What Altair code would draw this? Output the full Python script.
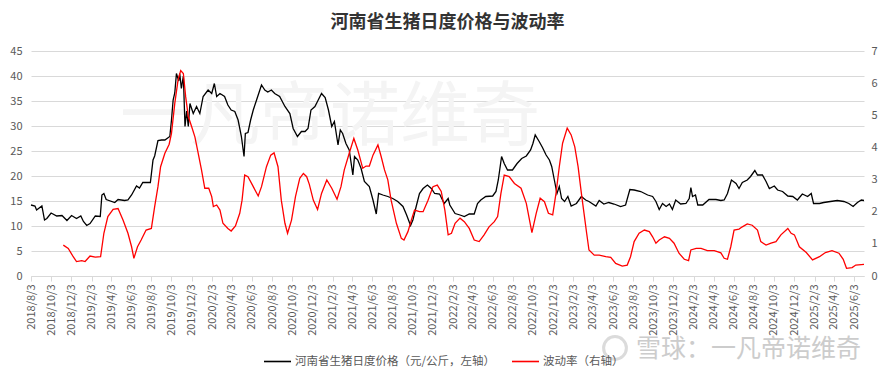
import altair as alt
import pandas as pd

TITLE = "河南省生猪日度价格与波动率"
PRICE = "河南省生猪日度价格（元/公斤，左轴）"
VOL = "波动率（右轴）"
FONT = "Noto Sans CJK SC"

price_dates = [
    "2018-08-03", "2018-08-15", "2018-08-20", "2018-09-05", "2018-09-13", "2018-09-20", "2018-10-03", "2018-10-20",
    "2018-11-05", "2018-11-20", "2018-12-04", "2018-12-19", "2019-01-01", "2019-01-09", "2019-01-19", "2019-01-29",
    "2019-02-14", "2019-03-01", "2019-03-06", "2019-03-12", "2019-03-19", "2019-04-14", "2019-04-24", "2019-05-14",
    "2019-05-24", "2019-06-04", "2019-06-19", "2019-06-28", "2019-07-08", "2019-07-31", "2019-08-08", "2019-08-13",
    "2019-08-23", "2019-09-03", "2019-09-13", "2019-09-28", "2019-10-03", "2019-10-08", "2019-10-13", "2019-10-18",
    "2019-10-25", "2019-10-28", "2019-11-02", "2019-11-08", "2019-11-13", "2019-11-18", "2019-11-23", "2019-11-28",
    "2019-12-08", "2019-12-18", "2019-12-28", "2020-01-07", "2020-01-22", "2020-02-02", "2020-02-10", "2020-02-17",
    "2020-02-27", "2020-03-12", "2020-03-22", "2020-04-01", "2020-04-12", "2020-04-22", "2020-05-02", "2020-05-10",
    "2020-05-14", "2020-05-22", "2020-05-30", "2020-06-07", "2020-06-17", "2020-07-02", "2020-07-12", "2020-07-21",
    "2020-08-01", "2020-08-11", "2020-08-26", "2020-09-11", "2020-09-26", "2020-10-06", "2020-10-19", "2020-10-31",
    "2020-11-11", "2020-11-20", "2020-11-29", "2020-12-11", "2020-12-21", "2020-12-31", "2021-01-11", "2021-01-21",
    "2021-01-31", "2021-02-08", "2021-02-19", "2021-02-26", "2021-03-05", "2021-03-15", "2021-03-25", "2021-04-05",
    "2021-04-10", "2021-04-20", "2021-04-30", "2021-05-10", "2021-05-25", "2021-06-05", "2021-06-15", "2021-06-22",
    "2021-07-05", "2021-07-20", "2021-08-04", "2021-08-19", "2021-09-04", "2021-09-15", "2021-09-27", "2021-10-04",
    "2021-10-14", "2021-10-24", "2021-11-04", "2021-11-17", "2021-11-29", "2021-12-09", "2021-12-24", "2022-01-07",
    "2022-01-19", "2022-01-24", "2022-02-09", "2022-02-24", "2022-03-09", "2022-03-24", "2022-04-08", "2022-04-18",
    "2022-04-28", "2022-05-13", "2022-06-03", "2022-06-13", "2022-06-20", "2022-06-30", "2022-07-08", "2022-07-18",
    "2022-08-02", "2022-08-16", "2022-08-30", "2022-09-13", "2022-09-26", "2022-10-03", "2022-10-10", "2022-10-22",
    "2022-11-01", "2022-11-12", "2022-11-22", "2022-11-29", "2022-12-07", "2022-12-15", "2022-12-22", "2022-12-29",
    "2023-01-07", "2023-01-17", "2023-01-27", "2023-02-12", "2023-02-27", "2023-03-12", "2023-03-22", "2023-04-12",
    "2023-04-22", "2023-05-06", "2023-05-21", "2023-06-06", "2023-06-26", "2023-07-11", "2023-07-24", "2023-08-06",
    "2023-08-26", "2023-09-16", "2023-10-01", "2023-10-11", "2023-10-21", "2023-10-31", "2023-11-11", "2023-11-21",
    "2023-11-30", "2023-12-10", "2023-12-25", "2024-01-10", "2024-01-20", "2024-01-25", "2024-01-30", "2024-02-08",
    "2024-02-15", "2024-03-01", "2024-03-20", "2024-04-10", "2024-04-25", "2024-05-05", "2024-05-15", "2024-05-27",
    "2024-06-10", "2024-06-19", "2024-06-29", "2024-07-14", "2024-07-24", "2024-08-06", "2024-08-14", "2024-08-29",
    "2024-09-09", "2024-09-19", "2024-10-04", "2024-10-14", "2024-10-29", "2024-11-14", "2024-11-29", "2024-12-13",
    "2024-12-28", "2025-01-13", "2025-01-24", "2025-01-31", "2025-02-18", "2025-03-03", "2025-03-23", "2025-04-13",
    "2025-05-03", "2025-05-18", "2025-05-31", "2025-06-13", "2025-06-25", "2025-07-03",
]
price_values = [
    14.2, 14.0, 13.2, 14.0, 11.2, 11.5, 12.6, 12.0,
    12.1, 11.1, 12.1, 11.5, 12.0, 10.9, 10.1, 10.5,
    12.0, 11.9, 16.2, 16.5, 15.3, 14.7, 15.3, 15.1,
    15.2, 16.2, 18.0, 17.6, 18.7, 18.7, 23.2, 24.0,
    27.1, 27.2, 27.2, 27.9, 31.2, 35.2, 36.6, 40.5,
    39.0, 40.5, 37.5, 40.0, 29.9, 33.0, 29.9, 34.5,
    32.5, 33.9, 32.5, 35.9, 37.2, 36.5, 38.5, 35.9,
    36.5, 35.9, 34.2, 33.2, 32.9, 31.2, 27.9, 23.9,
    28.5, 28.7, 31.2, 33.2, 35.2, 38.2, 37.2, 36.8,
    37.2, 36.5, 35.9, 33.9, 32.5, 29.5, 27.9, 28.9,
    28.9, 29.5, 33.2, 33.9, 35.2, 36.5, 35.7, 33.2,
    29.9, 30.9, 26.2, 29.2, 28.5, 26.5, 25.2, 20.2,
    23.9, 23.2, 21.5, 18.9, 17.9, 15.2, 12.4, 16.5,
    16.2, 15.9, 15.5, 14.9, 13.9, 12.2, 10.1, 11.2,
    13.9, 16.5, 17.5, 18.2, 17.5, 16.5, 16.4, 14.5,
    15.5, 14.2, 12.5, 12.2, 11.9, 12.4, 12.4, 14.5,
    15.2, 15.9, 16.0, 16.9, 19.2, 23.9, 22.5, 21.2,
    21.2, 22.5, 23.5, 24.0, 25.2, 26.5, 28.2, 26.9,
    25.7, 24.2, 23.2, 21.9, 19.2, 16.5, 17.9, 15.5,
    14.9, 15.9, 14.0, 14.5, 15.9, 15.2, 14.9, 14.0,
    15.1, 14.4, 14.7, 14.4, 13.9, 14.2, 17.3, 17.2,
    16.9, 16.2, 15.9, 14.9, 13.3, 14.5, 13.9, 14.4,
    13.3, 15.2, 14.4, 14.5, 15.5, 17.7, 15.9, 16.2,
    14.2, 14.2, 15.3, 15.3, 15.1, 15.2, 16.5, 19.2,
    18.5, 17.5, 18.7, 19.2, 19.9, 21.1, 20.2, 20.2,
    18.9, 17.5, 18.0, 17.2, 16.9, 16.0, 15.9, 15.2,
    16.4, 15.9, 16.5, 14.5, 14.5, 14.7, 14.9, 15.1,
    14.9, 14.5, 13.9, 14.7, 15.2, 15.1,
]

vol_dates = [
    "2018-11-09", "2018-11-24", "2018-12-09", "2018-12-19", "2019-01-04", "2019-01-14", "2019-01-29", "2019-02-14",
    "2019-03-02", "2019-03-12", "2019-03-24", "2019-04-09", "2019-04-24", "2019-05-09", "2019-05-24", "2019-06-04",
    "2019-06-11", "2019-06-22", "2019-07-03", "2019-07-18", "2019-08-03", "2019-08-13", "2019-08-23", "2019-08-31",
    "2019-09-13", "2019-09-26", "2019-10-03", "2019-10-13", "2019-10-23", "2019-10-31", "2019-11-08", "2019-11-15",
    "2019-11-23", "2019-12-03", "2019-12-13", "2019-12-22", "2020-01-02", "2020-01-12", "2020-01-24", "2020-02-02",
    "2020-02-07", "2020-02-17", "2020-02-27", "2020-03-07", "2020-03-22", "2020-04-01", "2020-04-14", "2020-04-27",
    "2020-05-04", "2020-05-12", "2020-05-22", "2020-06-07", "2020-06-22", "2020-07-02", "2020-07-17", "2020-07-30",
    "2020-08-09", "2020-08-21", "2020-08-31", "2020-09-11", "2020-09-19", "2020-10-01", "2020-10-13", "2020-10-26",
    "2020-11-06", "2020-11-16", "2020-11-24", "2020-12-06", "2020-12-19", "2020-12-31", "2021-01-16", "2021-01-31",
    "2021-02-16", "2021-02-28", "2021-03-10", "2021-03-25", "2021-04-08", "2021-04-20", "2021-05-05", "2021-05-15",
    "2021-05-25", "2021-06-05", "2021-06-20", "2021-06-30", "2021-07-10", "2021-07-20", "2021-07-30", "2021-08-15",
    "2021-08-30", "2021-09-07", "2021-09-19", "2021-09-30", "2021-10-09", "2021-10-24", "2021-11-04", "2021-11-19",
    "2021-12-04", "2021-12-17", "2021-12-29", "2022-01-09", "2022-01-19", "2022-01-29", "2022-02-09", "2022-02-24",
    "2022-03-09", "2022-03-24", "2022-04-08", "2022-04-23", "2022-05-08", "2022-05-23", "2022-06-08", "2022-06-18",
    "2022-06-28", "2022-07-08", "2022-07-23", "2022-08-08", "2022-08-28", "2022-09-13", "2022-09-30", "2022-10-13",
    "2022-10-25", "2022-11-07", "2022-11-19", "2022-12-02", "2022-12-12", "2022-12-22", "2023-01-01", "2023-01-15",
    "2023-01-27", "2023-02-07", "2023-02-17", "2023-02-27", "2023-03-07", "2023-03-15", "2023-03-22", "2023-04-07",
    "2023-04-22", "2023-05-12", "2023-05-27", "2023-06-11", "2023-07-01", "2023-07-16", "2023-07-26", "2023-08-06",
    "2023-08-21", "2023-09-06", "2023-09-21", "2023-10-01", "2023-10-11", "2023-10-21", "2023-11-06", "2023-11-21",
    "2023-12-05", "2023-12-20", "2024-01-05", "2024-01-18", "2024-01-25", "2024-02-10", "2024-02-25", "2024-03-15",
    "2024-04-05", "2024-04-25", "2024-05-05", "2024-05-15", "2024-05-25", "2024-06-04", "2024-06-19", "2024-06-29",
    "2024-07-14", "2024-07-29", "2024-08-14", "2024-08-24", "2024-09-09", "2024-09-24", "2024-10-09", "2024-10-24",
    "2024-11-14", "2024-11-24", "2024-12-04", "2024-12-19", "2025-01-09", "2025-01-28", "2025-02-18", "2025-03-08",
    "2025-03-28", "2025-04-18", "2025-05-01", "2025-05-11", "2025-05-28", "2025-06-08", "2025-07-03",
]
vol_values = [
    0.96, 0.86, 0.60, 0.45, 0.48, 0.45, 0.62, 0.59,
    0.60, 1.33, 1.85, 2.07, 2.10, 1.74, 1.33, 0.91,
    0.55, 0.91, 1.12, 1.43, 1.48, 2.16, 2.78, 3.40,
    3.82, 4.10, 4.44, 5.37, 6.10, 6.39, 6.30, 5.58,
    4.96, 4.65, 4.33, 3.87, 3.30, 2.73, 2.73, 2.47,
    2.16, 2.21, 2.05, 1.64, 1.48, 1.40, 1.56, 1.95,
    2.36, 3.14, 3.09, 2.78, 2.49, 2.78, 3.40, 3.76,
    3.83, 3.40, 2.36, 1.64, 1.33, 1.74, 2.47, 3.04,
    3.19, 3.09, 2.85, 2.36, 2.07, 2.57, 2.99, 2.73,
    2.39, 2.78, 3.30, 3.82, 4.28, 3.92, 3.35, 3.42,
    3.42, 3.76, 4.08, 3.71, 3.30, 2.99, 2.36, 1.64,
    1.17, 1.12, 1.38, 1.76, 2.05, 2.00, 2.00, 2.36,
    2.78, 2.83, 2.63, 2.05, 1.28, 1.33, 1.64, 1.80,
    1.69, 1.48, 1.12, 1.07, 1.28, 1.53, 1.69, 1.85,
    2.57, 3.14, 3.09, 2.88, 2.73, 2.26, 1.35, 1.95,
    2.42, 2.31, 1.95, 1.90, 2.57, 3.40, 4.13, 4.60,
    4.39, 4.02, 3.40, 2.57, 1.95, 1.33, 0.81, 0.65,
    0.65, 0.60, 0.58, 0.39, 0.31, 0.34, 0.60, 1.07,
    1.33, 1.43, 1.38, 1.22, 1.02, 1.12, 1.22, 1.17,
    1.02, 0.71, 0.52, 0.48, 0.81, 0.86, 0.86, 0.79,
    0.79, 0.72, 0.55, 0.52, 0.91, 1.43, 1.46, 1.53,
    1.62, 1.58, 1.43, 1.07, 0.96, 1.02, 1.07, 1.28,
    1.48, 1.33, 1.28, 0.91, 0.73, 0.50, 0.60, 0.73,
    0.79, 0.71, 0.52, 0.24, 0.26, 0.34, 0.36,
]

tick_dates = [
    "2018-08-03", "2018-10-03", "2018-12-03",
    "2019-02-03", "2019-04-03", "2019-06-03", "2019-08-03", "2019-10-03", "2019-12-03",
    "2020-02-03", "2020-04-03", "2020-06-03", "2020-08-03", "2020-10-03", "2020-12-03",
    "2021-02-03", "2021-04-03", "2021-06-03", "2021-08-03", "2021-10-03", "2021-12-03",
    "2022-02-03", "2022-04-03", "2022-06-03", "2022-08-03", "2022-10-03", "2022-12-03",
    "2023-02-03", "2023-04-03", "2023-06-03", "2023-08-03", "2023-10-03", "2023-12-03",
    "2024-02-03", "2024-04-03", "2024-06-03", "2024-08-03", "2024-10-03", "2024-12-03",
    "2025-02-03", "2025-04-03", "2025-06-03",
]
x_range = ["2018-08-03", "2025-07-03"]
left_ticks = [0, 5, 10, 15, 20, 25, 30, 35, 40, 45]
right_ticks = [0, 1, 2, 3, 4, 5, 6, 7]
watermark_mid = "一凡帝诺维奇"
watermark_corner = "雪球：一凡帝诺维奇"


def ms(d):
    return int(pd.Timestamp(d, tz="UTC").value // 10**6)


price_df = pd.DataFrame({"date": price_dates, "value": price_values, "series": PRICE})
vol_df = pd.DataFrame({"date": vol_dates, "value": vol_values, "series": VOL})

x_enc = alt.X(
    "date:T",
    scale=alt.Scale(type="utc", domain=[ms(d) for d in x_range]),
    axis=alt.Axis(
        values=[ms(d) for d in tick_dates],
        labelExpr="utcFormat(datum.value, '%Y/%-m/%-d')",
        labelAngle=270, labelAlign="right", labelBaseline="middle",
        labelPadding=3, tickSize=5, ticks=True, tickColor="#d9d9d9",
        domainColor="#d9d9d9", grid=False, title=None, labelOverlap=False,
    ),
)

color_scale = alt.Scale(domain=[PRICE, VOL], range=["#000000", "#ff0000"])
legend = alt.Legend(
    orient="none", legendX=232, legendY=296, direction="horizontal", title=None,
    symbolType="stroke", symbolSize=729, symbolStrokeWidth=1.6, labelFontSize=11.5,
    labelColor="#595959", labelFont=FONT, labelLimit=400, columnPadding=12, labelOffset=3,
)

price_line = alt.Chart(price_df).mark_line(strokeWidth=1.3).encode(
    x=x_enc,
    y=alt.Y("value:Q", scale=alt.Scale(domain=[0, 45]),
            axis=alt.Axis(values=left_ticks, title=None, grid=True, gridColor="#d9d9d9",
                          domain=False, ticks=False, tickSize=0, labelPadding=9)),
    color=alt.Color("series:N", scale=color_scale, legend=legend),
)

vol_line = alt.Chart(vol_df).mark_line(strokeWidth=1.3).encode(
    x=x_enc,
    y=alt.Y("value:Q", scale=alt.Scale(domain=[0, 7]),
            axis=alt.Axis(orient="right", values=right_ticks, title=None, grid=False,
                          domain=False, ticks=False, tickSize=0, labelPadding=7)),
    color=alt.Color("series:N", scale=color_scale, legend=legend),
)

wm_mid = alt.Chart(pd.DataFrame({"t": [watermark_mid]})).mark_text(
    font=FONT, fontSize=70, color="#f4f4f4", align="center", baseline="middle"
).encode(text="t:N", x=alt.value(299), y=alt.value(68))

wm_corner = alt.Chart(pd.DataFrame({"t": [watermark_corner]})).mark_text(
    font=FONT, fontSize=25, color="#cccccc", align="left", baseline="middle"
).encode(text="t:N", x=alt.value(605), y=alt.value(298))

wm_logo = alt.Chart(pd.DataFrame({"t": [watermark_corner]})).mark_point(
    shape="circle", filled=False, size=520, color="#cccccc", strokeWidth=3
).encode(x=alt.value(584), y=alt.value(297))

chart = alt.layer(wm_mid, price_line, vol_line, wm_corner, wm_logo).resolve_scale(
    y="independent"
).properties(
    width=833, height=225,
    padding={"left": 23, "top": 43, "right": 18, "bottom": 95},
    autosize=alt.AutoSizeParams(type="none"),
    title=alt.TitleParams(TITLE, font=FONT, fontSize=18, fontWeight="bold",
                          color="#333333", anchor="middle", offset=13),
    background="white",
).configure_view(stroke=None).configure_axis(
    labelFont=FONT, labelFontSize=11, labelColor="#595959"
)

chart.save("out.html", embed_options={"renderer": "svg", "actions": False})
